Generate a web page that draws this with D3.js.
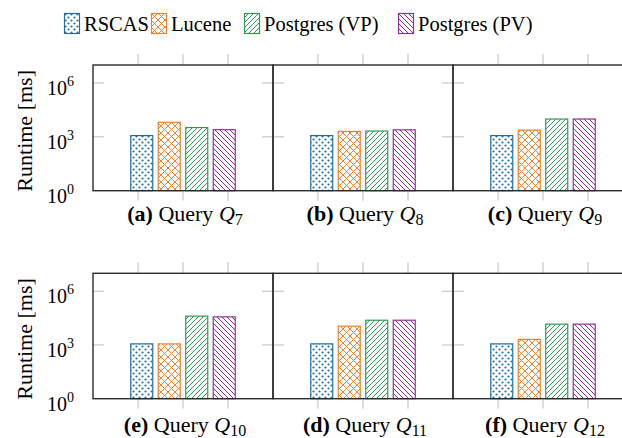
<!DOCTYPE html>
<html>
<head>
<meta charset="utf-8">
<script src="https://cdn.jsdelivr.net/npm/d3@7"></script>
</head>
<body style="margin:0;background:#fff">
<svg id="chart" width="622" height="438"></svg>
<script>
// Runtime per query, log scale, four systems side by side in each panel.
const series = ['RSCAS', 'Lucene', 'Postgres (VP)', 'Postgres (PV)'];
const panelLetters = ['a', 'b', 'c', 'e', 'd', 'f'];
const querySubs = ['7', '8', '9', '10', '11', '12'];

// values in ms
const rscasMs  = [1175, 1175, 1175, 1150, 1150, 1150];
const luceneMs = [6450, 2000, 2350, 1150, 11200, 2050];
const pgVpMs   = [3300, 2100, 9800, 40700, 24000, 14500];
const pgPvMs   = [2500, 2450, 9800, 37000, 24000, 14500];
const yTicks = [1, 1e3, 1e6];
const yTickExp = ['0', '3', '6'];

const colors = ['#1f6fa3', '#f57f2a', '#2d9c52', '#942e96'];
const patternIds = ['pat-dots', 'pat-cross', 'pat-ne', 'pat-nw'];
const FONT = "'Liberation Serif', serif";

const svg = d3.select('#chart');
const defs = svg.append('defs');
const text = (sel) => sel.append('text').style('font-family', FONT);

function pattern(id, size) {
  return defs.append('pattern').attr('id', id)
    .attr('patternUnits', 'userSpaceOnUse').attr('width', size).attr('height', size);
}
pattern('pat-dots', 6).call(p => {
  p.append('circle').attr('cx', 1.5).attr('cy', 1.5).attr('r', 1.1).attr('fill', colors[0]);
  p.append('circle').attr('cx', 4.5).attr('cy', 4.5).attr('r', 1.1).attr('fill', colors[0]);
});
pattern('pat-cross', 7).call(p => {
  p.append('path').attr('d', 'M0,0L7,7M0,7L7,0').attr('stroke', colors[1]).attr('stroke-width', 1);
});
pattern('pat-ne', 5).call(p => {
  p.append('path').attr('d', 'M0,5L5,0M-1,1L1,-1M4,6L6,4').attr('stroke', colors[2]).attr('stroke-width', 1);
});
pattern('pat-nw', 5).call(p => {
  p.append('path').attr('d', 'M0,0L5,5M-1,4L1,6M4,-1L6,1').attr('stroke', colors[3]).attr('stroke-width', 1);
});

const panelW = 180, left0 = 93;
const rows = [{ top: 65, bottom: 190.7, cap: 220.5 }, { top: 273.3, bottom: 398.7, cap: 431.5 }];
const tickColor = '#b4b4b4', frameColor = '#2b2b2b';

// legend
const legendX = [64, 151, 244, 398];
series.forEach((s, i) => {
  const g = svg.append('g').attr('transform', `translate(${legendX[i]},13)`);
  g.append('rect').attr('x', 0.5).attr('y', 0.5).attr('width', 15).attr('height', 20)
    .attr('fill', `url(#${patternIds[i]})`).attr('stroke', colors[i]).attr('stroke-width', 1.2);
  text(g).attr('x', 20).attr('y', 18).attr('font-size', 20.5).text(s);
});

rows.forEach((row, r) => {
  const y = d3.scaleLog().domain([1, 1e7]).range([row.bottom, row.top]);

  // y label + tick labels
  text(svg)
    .attr('transform', `translate(32,${(row.top + row.bottom) / 2 + 3}) rotate(-90)`)
    .attr('text-anchor', 'middle').attr('font-size', 22).text('Runtime [ms]');
  yTicks.forEach((t, k) => {
    const tx = text(svg).attr('x', 74).attr('y', y(t) + 12)
      .attr('text-anchor', 'end').attr('font-size', 20);
    tx.append('tspan').text('10');
    tx.append('tspan').attr('dy', -9).attr('font-size', 14).text(yTickExp[k]);
  });

  for (let c = 0; c < 3; c++) {
    const idx = r * 3 + c;
    const x0 = left0 + c * panelW;
    const g = svg.append('g');
    const xt = d3.scaleLinear().domain([0, 4]).range([x0, x0 + panelW]);
    const cx = xt(2);
    const xb = d3.scaleBand().domain(series).range([cx - 52.25, cx + 52.25]).paddingInner(0.2);

    // x ticks (outside top and bottom)
    [1, 2, 3].forEach(v => {
      g.append('line').attr('x1', xt(v)).attr('x2', xt(v)).attr('y1', row.top - 11).attr('y2', row.top)
        .attr('stroke', tickColor).attr('stroke-width', 0.9);
      g.append('line').attr('x1', xt(v)).attr('x2', xt(v)).attr('y1', row.bottom).attr('y2', row.bottom + 10)
        .attr('stroke', tickColor).attr('stroke-width', 0.9);
    });
    // y ticks (inside left and right)
    yTicks.slice(1).forEach(t => {
      g.append('line').attr('x1', x0).attr('x2', x0 + 11).attr('y1', y(t)).attr('y2', y(t))
        .attr('stroke', tickColor).attr('stroke-width', 0.9);
      g.append('line').attr('x1', x0 + panelW - 11).attr('x2', x0 + panelW).attr('y1', y(t)).attr('y2', y(t))
        .attr('stroke', tickColor).attr('stroke-width', 0.9);
    });

    const vals = [rscasMs[idx], luceneMs[idx], pgVpMs[idx], pgPvMs[idx]];
    g.selectAll('rect.bar').data(vals).join('rect').attr('class', 'bar')
      .attr('x', (d, i) => xb(series[i]))
      .attr('width', xb.bandwidth())
      .attr('y', d => y(d))
      .attr('height', d => y(1) - y(d))
      .attr('fill', (d, i) => `url(#${patternIds[i]})`)
      .attr('stroke', (d, i) => colors[i]).attr('stroke-width', 1.2);

    g.append('rect').attr('x', x0).attr('y', row.top).attr('width', panelW).attr('height', row.bottom - row.top)
      .attr('fill', 'none').attr('stroke', frameColor).attr('stroke-width', 1.4);

    // caption
    const cap = text(svg).attr('x', cx + 2).attr('y', row.cap)
      .attr('text-anchor', 'middle').attr('font-size', 22);
    cap.append('tspan').attr('font-weight', 'bold').text(`(${panelLetters[idx]})`);
    cap.append('tspan').text(' Query ');
    cap.append('tspan').attr('font-style', 'italic').text('Q');
    cap.append('tspan').attr('dy', 4).attr('font-size', 16).text(querySubs[idx]);
  }
});
</script>
</body>
</html>
